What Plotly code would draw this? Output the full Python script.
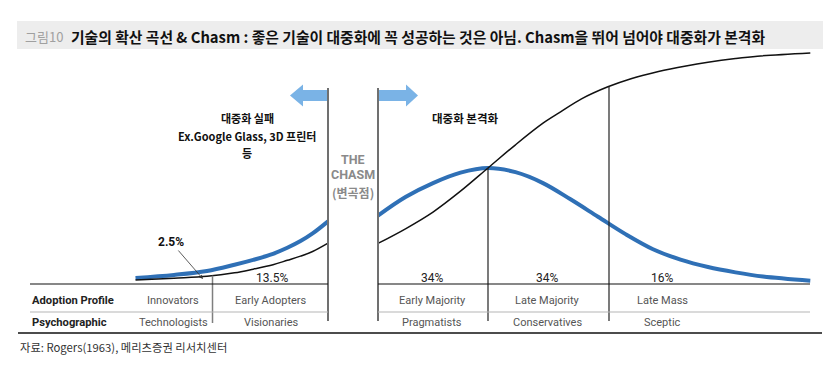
import numpy as np
import plotly.graph_objects as go

# ---------------- data ----------------
# x in standard-deviation units of adoption time, y in % (S-curve 0-100, bell peak = 50)
BELL_LEFT_X = [-2.75, -2.4, -2.1, -1.85, -1.68, -1.5, -1.37, -1.25, -1.14, -1.0]
BELL_LEFT_Y = [2.6, 3.9, 5.6, 8.3, 10.4, 13.0, 15.6, 18.5, 21.8, 27.0]
BELL_RIGHT_X = [-1.0, -0.75, -0.5, -0.25, 0.0, 0.25, 0.5, 0.75, 1.0, 1.25, 1.5, 1.75, 2.0, 2.25, 2.5, 2.93]
BELL_RIGHT_Y = [29.5, 37.5, 43.5, 48.0, 50.0, 48.2, 43.5, 36.5, 29.0, 21.5, 15.0, 10.5, 7.3, 5.0, 3.2, 1.4]
S_LEFT_X = [-2.75, -2.4, -2.1, -1.85, -1.68, -1.5, -1.37, -1.25, -1.14, -1.0]
S_LEFT_Y = [1.7, 2.5, 3.3, 4.8, 6.4, 8.3, 10.2, 12.0, 14.0, 17.6]
S_RIGHT_X = [-1.0, -0.75, -0.5, -0.25, 0.0, 0.25, 0.5, 0.66, 0.85, 1.09, 1.3, 1.55, 1.8, 2.0, 2.25, 2.45, 2.93]
S_RIGHT_Y = [17.5, 23.8, 31.0, 40.0, 50.0, 60.0, 69.3, 74.2, 79.8, 85.0, 88.5, 91.6, 94.0, 95.6, 97.2, 98.2, 99.6]

CATEGORIES = ["Innovators", "Early Adopters", "Early Majority", "Late Majority", "Late Mass"]
PSYCHOGRAPHIC = ["Technologists", "Visionaries", "Pragmatists", "Conservatives", "Sceptic"]
SHARES = ["2.5%", "13.5%", "34%", "34%", "16%"]
BOUNDARIES = [-2.05, -1.0, 0.0, 1.1]   # Innovators|EA, chasm, mean, LM|Late mass
ROW_LABELS = ["Adoption Profile", "Psychographic"]

TITLE_NUM = "그림10"
TITLE = "기술의 확산 곡선 & Chasm : 좋은 기술이 대중화에 꼭 성공하는 것은 아님. Chasm을 뛰어 넘어야 대중화가 본격화"
SOURCE = "자료: Rogers(1963), 메리츠증권 리서치센터"
LEFT_NOTE = ["대중화 실패", "Ex.Google Glass, 3D 프린터", "등"]
RIGHT_NOTE = "대중화 본격화"
CHASM_NOTE = ["THE", "CHASM", "(변곡점)"]

# ---------------- layout constants ----------------
W, H = 838, 367
CHASM_GAP = 0.4545          # left part is shifted left by the chasm width
PX_MEAN, PX_PER_SD = 488.0, 110.0
PX_BASE, PX_PER_PCT = 284.0, 2.32
X0 = -PX_MEAN / PX_PER_SD
X1 = (W - PX_MEAN) / PX_PER_SD
Y1 = PX_BASE / PX_PER_PCT
Y0 = -(H - PX_BASE) / PX_PER_PCT

BLUE = "#2f70b6"
ARROW = "#7ab3e6"
FONT_KR = "Noto Sans CJK KR"
FONT_EN = "Roboto"


def px(x):
    return x / W


def py(y):
    return 1 - y / H


def ydata(pyv):
    return (PX_BASE - pyv) / PX_PER_PCT


def xdata(pxv):
    return (pxv - PX_MEAN) / PX_PER_SD


left_shift = lambda arr: [v - CHASM_GAP for v in arr]

fig = go.Figure()
fig.add_trace(go.Scatter(x=left_shift(BELL_LEFT_X), y=BELL_LEFT_Y, mode="lines",
                         line=dict(color=BLUE, width=4, shape="spline", smoothing=1.0), hoverinfo="skip"))
fig.add_trace(go.Scatter(x=BELL_RIGHT_X, y=BELL_RIGHT_Y, mode="lines",
                         line=dict(color=BLUE, width=4, shape="spline", smoothing=1.0), hoverinfo="skip"))
fig.add_trace(go.Scatter(x=left_shift(S_LEFT_X), y=S_LEFT_Y, mode="lines",
                         line=dict(color="#111111", width=1.5, shape="spline", smoothing=1.0), hoverinfo="skip"))
fig.add_trace(go.Scatter(x=S_RIGHT_X, y=S_RIGHT_Y, mode="lines",
                         line=dict(color="#111111", width=1.5, shape="spline", smoothing=1.0), hoverinfo="skip"))

shapes = []
# title bar
shapes.append(dict(type="rect", xref="paper", yref="paper", x0=px(17), x1=px(823), y0=py(49), y1=py(21),
                   fillcolor="#ededed", line=dict(width=0), layer="below"))

y_bottom = ydata(321)
y_top_chasm = ydata(88)
# boundary lines
b_inn = BOUNDARIES[0]
shapes.append(dict(type="line", xref="x", yref="y", x0=b_inn - CHASM_GAP, x1=b_inn - CHASM_GAP,
                   y0=float(np.interp(b_inn, S_LEFT_X, S_LEFT_Y)), y1=ydata(323),
                   line=dict(color="#7f7f7f", width=1.5)))
for xc in [BOUNDARIES[1] - CHASM_GAP, BOUNDARIES[1]]:
    shapes.append(dict(type="line", xref="x", yref="y", x0=xc, x1=xc, y0=y_top_chasm, y1=y_bottom,
                       line=dict(color="#707070", width=2)))
shapes.append(dict(type="line", xref="x", yref="y", x0=BOUNDARIES[2], x1=BOUNDARIES[2],
                   y0=max(BELL_RIGHT_Y), y1=y_bottom, line=dict(color="#222222", width=1.2)))
shapes.append(dict(type="line", xref="x", yref="y", x0=BOUNDARIES[3], x1=BOUNDARIES[3],
                   y0=float(np.interp(BOUNDARIES[3], S_RIGHT_X, S_RIGHT_Y)), y1=y_bottom,
                   line=dict(color="#222222", width=1.2)))

# table lines
for (a, b) in [(30, 328), (378, 810)]:
    shapes.append(dict(type="line", xref="paper", yref="paper", x0=px(a), x1=px(b), y0=py(284), y1=py(284),
                       line=dict(color="#111111", width=1.2)))
    shapes.append(dict(type="line", xref="paper", yref="paper", x0=px(a), x1=px(b), y0=py(312), y1=py(312),
                       line=dict(color="#b5b5b5", width=1)))
shapes.append(dict(type="line", xref="paper", yref="paper", x0=px(18), x1=px(822), y0=py(333), y1=py(333),
                   line=dict(color="#111111", width=1.5)))

# arrows
cy = 95.5


def arrow_path(tail, base, tip):
    pts = [(tail, cy - 5.5), (base, cy - 5.5), (base, cy - 11), (tip, cy), (base, cy + 11), (base, cy + 5.5),
           (tail, cy + 5.5)]
    return "M " + " L ".join(f"{px(a):.5f},{py(b):.5f}" for a, b in pts) + " Z"


shapes.append(dict(type="path", xref="paper", yref="paper", path=arrow_path(327, 303, 290),
                   fillcolor=ARROW, line=dict(width=0)))
shapes.append(dict(type="path", xref="paper", yref="paper", path=arrow_path(379, 406, 418),
                   fillcolor=ARROW, line=dict(width=0)))

annotations = []


def ann(text, x, y, size=11, color="#222", family=FONT_KR, xanchor="center", yanchor="middle"):
    annotations.append(dict(text=text, x=px(x), y=py(y), xref="paper", yref="paper", showarrow=False,
                            xanchor=xanchor, yanchor=yanchor, font=dict(size=size, color=color, family=family)))


# title
ann(TITLE_NUM, 23, 36, size=13, color="#a0a0a0", xanchor="left")
ann(f"<b>{TITLE}</b>", 69, 36, size=14.8, color="#111111", xanchor="left")

# table text
COL_PX = [173, 271, 432, 547, 662]
for i, name in enumerate(CATEGORIES):
    ann(name, COL_PX[i], 300, size=11, color="#555555", family=FONT_EN)
    ann(PSYCHOGRAPHIC[i], COL_PX[i], 322, size=11, color="#555555", family=FONT_EN)
ann(f"<b>{ROW_LABELS[0]}</b>", 30, 300, size=11.2, color="#222222", family=FONT_EN, xanchor="left")
ann(f"<b>{ROW_LABELS[1]}</b>", 30, 322, size=11.2, color="#222222", family=FONT_EN, xanchor="left")
for i in range(1, 5):
    ann(SHARES[i], COL_PX[i] + (1 if i == 1 else 0), 278, size=12, color="#222222", family=FONT_EN)

# 2.5% with arrow
annotations.append(dict(text=f"<b>{SHARES[0]}</b>", x=xdata(203), y=ydata(279), xref="x", yref="y",
                        ax=171 - 203, ay=242 - 279, showarrow=True, arrowhead=2, arrowsize=1, arrowwidth=0.8,
                        arrowcolor="#333333", standoff=0, startstandoff=0,
                        font=dict(size=12, color="#111111", family=FONT_EN)))

# notes
for t, yy in zip(LEFT_NOTE, [118, 136, 153]):
    ann(f"<b>{t}</b>", 247, yy, size=11, color="#111111")
ann(f"<b>{RIGHT_NOTE}</b>", 465, 118, size=11.5, color="#111111")
ann(f"<b>{CHASM_NOTE[0]}</b>", 353, 159, size=12.5, color="#8a8a8a", family=FONT_EN)
ann(f"<b>{CHASM_NOTE[1]}</b>", 353, 174.5, size=12.5, color="#8a8a8a", family=FONT_EN)
ann(f"<b>{CHASM_NOTE[2]}</b>", 353, 192.5, size=12, color="#8a8a8a")

# source
ann(SOURCE, 18, 347, size=11.3, color="#333333", xanchor="left")

fig.update_layout(
    width=W, height=H, autosize=False,
    margin=dict(l=0, r=0, t=0, b=0),
    paper_bgcolor="white", plot_bgcolor="white",
    showlegend=False,
    xaxis=dict(range=[X0, X1], visible=False, fixedrange=True),
    yaxis=dict(range=[Y0, Y1], visible=False, fixedrange=True),
    shapes=shapes, annotations=annotations,
    font=dict(family=FONT_KR),
)

fig.write_html("out.html", config={"displayModeBar": False},
               post_script="document.body.style.margin='0';")
